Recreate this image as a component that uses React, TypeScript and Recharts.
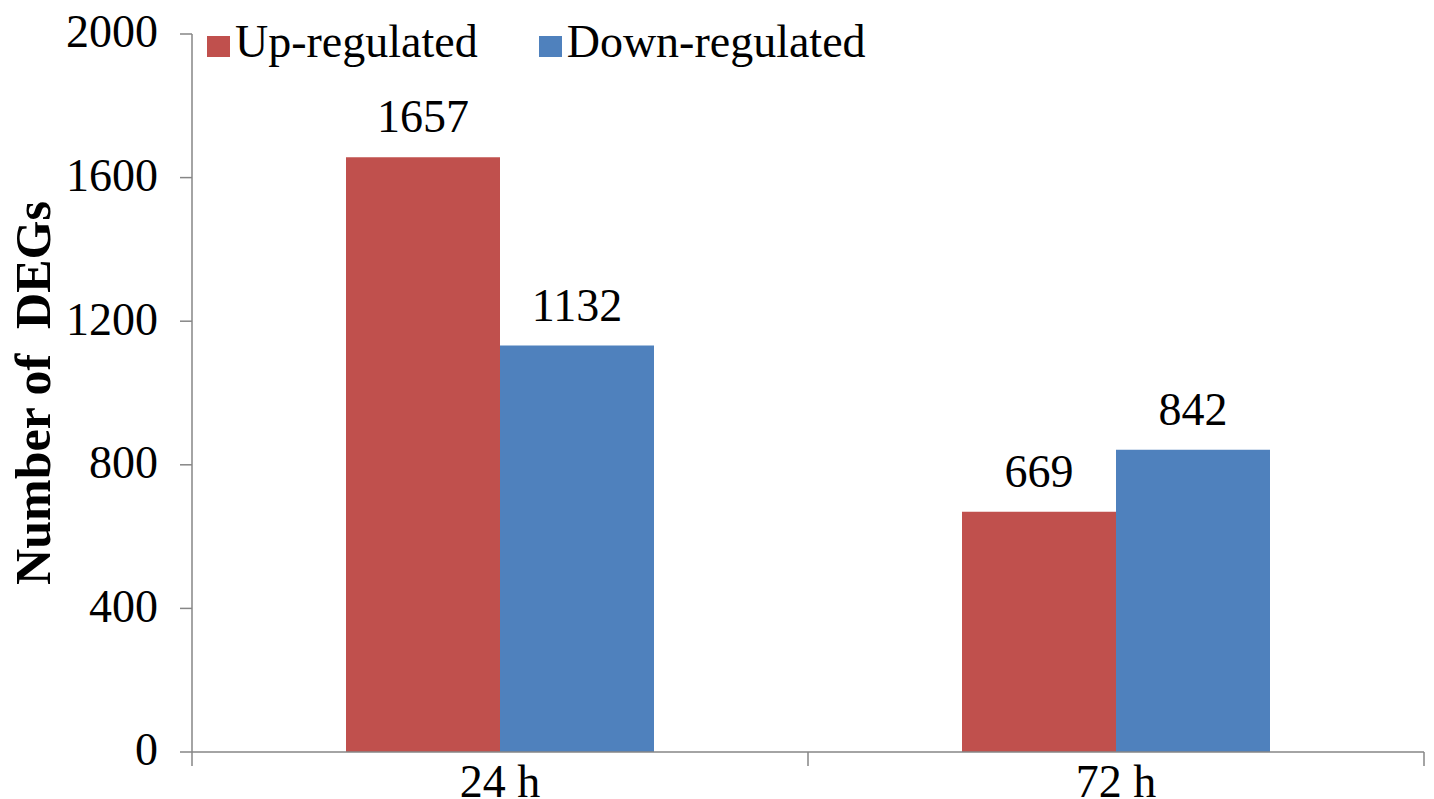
import { Bar, BarChart, LabelList, Legend, XAxis, YAxis } from "recharts";

const RED = "#C0504D";
const BLUE = "#4F81BD";
const AXIS_GREY = "#868686";
const FONT = '"Liberation Serif", "Times New Roman", serif';

const timePoints = ["24 h", "72 h"];
const upRegulated = [1657, 669];
const downRegulated = [1132, 842];
const seriesNames = ["Up-regulated", "Down-regulated"];
const yTicks = [0, 400, 800, 1200, 1600, 2000];

const X_TICK_MARGIN = 12;
const X_TICK_LEN = 14;

const data = timePoints.map((time, i) => ({
  time,
  up: upRegulated[i],
  down: downRegulated[i],
}));

function LegendContent({ payload }: any) {
  const items = [...(payload || [])].sort(
    (a: any, b: any) => seriesNames.indexOf(a.value) - seriesNames.indexOf(b.value)
  );
  return (
    <div style={{ display: "flex", alignItems: "baseline", fontFamily: FONT }}>
      {items.map((entry: any, i: number) => (
        <div
          key={entry.value}
          style={{
            display: "flex",
            alignItems: "baseline",
            marginLeft: i === 0 ? 0 : 61,
          }}
        >
          <span
            style={{
              display: "inline-block",
              width: 23,
              height: 21,
              background: entry.color,
              marginRight: 5,
            }}
          />
          <span style={{ fontSize: 46, lineHeight: "46px", color: "#000" }}>
            {entry.value}
          </span>
        </div>
      ))}
    </div>
  );
}

function YTitle({ viewBox }: any) {
  const cx = viewBox.x + 33;
  const cy = viewBox.y + viewBox.height / 2;
  return (
    <text
      x={cx}
      y={cy}
      transform={`rotate(-90, ${cx}, ${cy})`}
      textAnchor="middle"
      dominantBaseline="central"
      fontFamily={FONT}
      fontSize={50}
      fontWeight="bold"
      fill="#000"
      style={{ whiteSpace: "pre" }}
    >
      {"Number of  DEGs"}
    </text>
  );
}

// category label plus tick marks on the band edges (Excel style)
function CategoryTick({ x, y, payload, visibleTicksCount }: any) {
  const half = payload.offset || 0;
  const axisY = y - X_TICK_MARGIN;
  const edges = [x - half];
  if (payload.index === visibleTicksCount - 1) edges.push(x + half);
  return (
    <g>
      {edges.map((ex) => (
        <line
          key={ex}
          x1={ex}
          x2={ex}
          y1={axisY}
          y2={axisY + X_TICK_LEN}
          stroke={AXIS_GREY}
          strokeWidth={1.5}
        />
      ))}
      <text
        x={x}
        y={y}
        dy="0.71em"
        textAnchor="middle"
        fontFamily={FONT}
        fontSize={46}
        fill="#000"
      >
        {payload.value}
      </text>
    </g>
  );
}

export default function App() {
  return (
    <>
      <style>{"body{margin:0;background:#fff}"}</style>
      <BarChart
        width={1434}
        height={799}
        data={data}
        margin={{ top: 34, right: 10, left: 0, bottom: 0 }}
        barCategoryGap="25%"
        barGap={0}
      >
        <XAxis
          dataKey="time"
          height={47}
          tickSize={0}
          tickMargin={X_TICK_MARGIN}
          tickLine={false}
          axisLine={{ stroke: AXIS_GREY, strokeWidth: 1.5 }}
          tick={<CategoryTick />}
        />
        <YAxis
          width={192}
          domain={[0, 2000]}
          ticks={yTicks}
          tickSize={12}
          tickMargin={22}
          axisLine={{ stroke: AXIS_GREY, strokeWidth: 1.5 }}
          tickLine={{ stroke: AXIS_GREY, strokeWidth: 1.5 }}
          tick={{ fill: "#000", fontSize: 46, fontFamily: FONT, dy: -3 }}
          label={{ content: <YTitle /> }}
        />
        <Legend
          layout="horizontal"
          verticalAlign="middle"
          align="center"
          content={<LegendContent />}
          wrapperStyle={{ top: 19, left: 207, width: "auto", height: "auto" }}
        />
        <Bar dataKey="up" name="Up-regulated" fill={RED} isAnimationActive={false}>
          <LabelList
            dataKey="up"
            position="top"
            offset={25}
            fill="#000"
            fontSize={46}
            fontFamily={FONT}
          />
        </Bar>
        <Bar dataKey="down" name="Down-regulated" fill={BLUE} isAnimationActive={false}>
          <LabelList
            dataKey="down"
            position="top"
            offset={25}
            fill="#000"
            fontSize={46}
            fontFamily={FONT}
          />
        </Bar>
      </BarChart>
    </>
  );
}
